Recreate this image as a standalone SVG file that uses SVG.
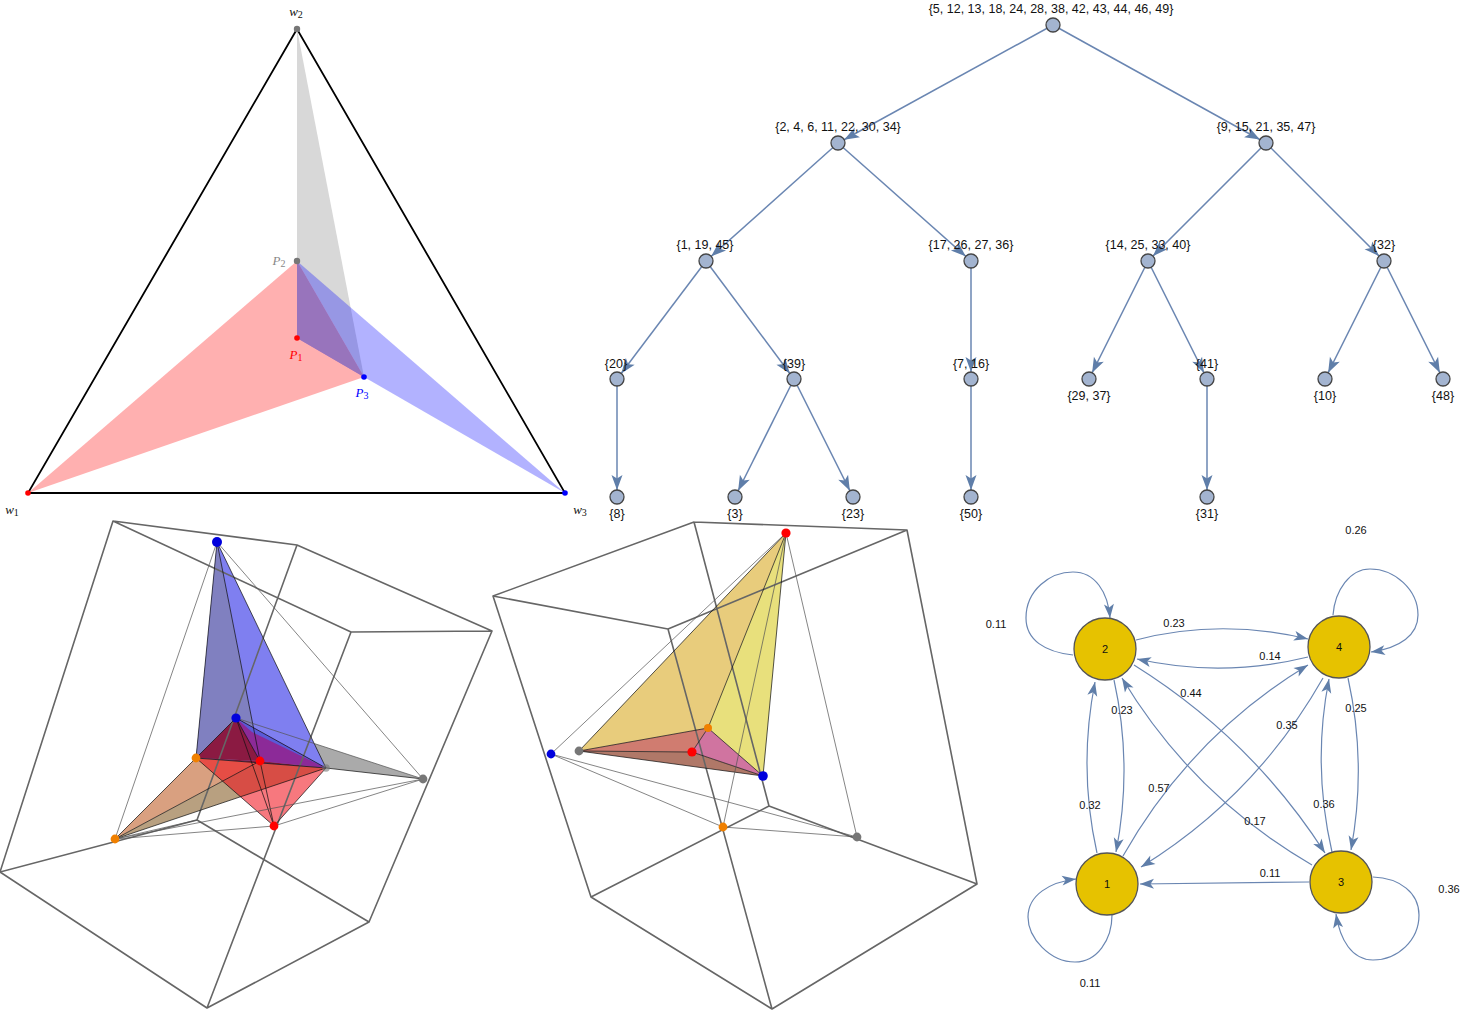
<svg xmlns="http://www.w3.org/2000/svg" width="1467" height="1010" viewBox="0 0 1467 1010">
<style>
text{font-family:"Liberation Sans",Arial,sans-serif;font-size:11px;fill:#111;text-anchor:middle}
.tl text{font-size:12.5px}
.m{font-family:"Liberation Serif","Times New Roman",serif;font-size:13px;font-style:italic}
.m tspan{font-style:normal;font-size:10px}
.cube{fill:none;stroke:#666;stroke-width:1.6;stroke-linejoin:round;stroke-linecap:round}
.e{fill:none;stroke:#111;stroke-width:.9;stroke-opacity:.8}
.t{fill:none;stroke:#555;stroke-width:.9;stroke-opacity:.8}
.te{stroke:#6a86b2;stroke-width:1.5;fill:none;marker-end:url(#ta)}
.ge{stroke:#6a86b2;stroke-width:1.2;fill:none;marker-end:url(#ga)}
.tn{fill:#a3b4d0;stroke:#444;stroke-width:1.3}
.gn{fill:#e6c200;stroke:#555;stroke-width:1.3}
</style>
<defs>
<marker id="ta" markerUnits="userSpaceOnUse" markerWidth="30" markerHeight="12" refX="22" refY="6" orient="auto" overflow="visible"><path d="M15,6 L0,.5 L3.5,6 L0,11.5Z" fill="#5f7ea9"/></marker>
<marker id="ga" markerUnits="userSpaceOnUse" markerWidth="14" markerHeight="12" refX="14" refY="6" orient="auto" overflow="visible"><path d="M14,6 L0,1 L3.5,6 L0,11Z" fill="#5f7ea9"/></marker>
</defs>

<g id="simplex">
<polygon points="297,29 297,261 364,377" fill="#d8d8d8"/>
<polygon points="28,493 297,261 364,377" fill="#ffb0b0"/>
<polygon points="297,261 565,493 364,377 297,338" fill="#0000ff" fill-opacity=".3"/>
<polygon points="297,261 297,338 364,377" fill="#9874bc"/>
<polygon points="297,29 28,493 565,493" fill="none" stroke="#000" stroke-width="1.8"/>
<circle cx="297" cy="29" r="3.2" fill="#777"/><circle cx="297" cy="261" r="3.2" fill="#777"/>
<circle cx="297" cy="338" r="2.8" fill="#f00"/><circle cx="28" cy="493" r="2.8" fill="#f00"/>
<circle cx="364" cy="377" r="2.8" fill="#00f"/><circle cx="565" cy="493" r="2.8" fill="#00f"/>
<text class="m" x="296" y="16">w<tspan dy="2">2</tspan></text>
<text class="m" x="12" y="514">w<tspan dy="2">1</tspan></text>
<text class="m" x="580" y="514">w<tspan dy="2">3</tspan></text>
<text class="m" x="279" y="265" style="fill:#888">P<tspan dy="2">2</tspan></text>
<text class="m" x="296" y="359" style="fill:#f00">P<tspan dy="2">1</tspan></text>
<text class="m" x="362" y="397" style="fill:#00f">P<tspan dy="2">3</tspan></text>
</g>

<g id="tree-connectors">
<path class="te" d="M1053,25L838,143"/><path class="te" d="M1053,25L1266,143"/>
<path class="te" d="M838,143L706,261"/><path class="te" d="M838,143L971,261"/>
<path class="te" d="M1266,143L1148,261"/><path class="te" d="M1266,143L1384,261"/>
<path class="te" d="M706,261L617,379"/><path class="te" d="M706,261L794,379"/>
<path class="te" d="M971,261L971,379"/>
<path class="te" d="M1148,261L1089,379"/><path class="te" d="M1148,261L1207,379"/>
<path class="te" d="M1384,261L1325,379"/><path class="te" d="M1384,261L1443,379"/>
<path class="te" d="M617,379L617,497"/>
<path class="te" d="M794,379L735,497"/><path class="te" d="M794,379L853,497"/>
<path class="te" d="M971,379L971,497"/>
<path class="te" d="M1207,379L1207,497"/>
</g>
<g class="tl">
<g id="tree-root"><circle class="tn" cx="1053" cy="25" r="7"/><text x="1051" y="13">{5, 12, 13, 18, 24, 28, 38, 42, 43, 44, 46, 49}</text></g>
<g id="tree-n1"><circle class="tn" cx="838" cy="143" r="7"/><text x="838" y="131">{2, 4, 6, 11, 22, 30, 34}</text></g>
<g id="tree-n2"><circle class="tn" cx="1266" cy="143" r="7"/><text x="1266" y="131">{9, 15, 21, 35, 47}</text></g>
<g id="tree-n3"><circle class="tn" cx="706" cy="261" r="7"/><text x="705" y="249">{1, 19, 45}</text></g>
<g id="tree-n4"><circle class="tn" cx="971" cy="261" r="7"/><text x="971" y="249">{17, 26, 27, 36}</text></g>
<g id="tree-n5"><circle class="tn" cx="1148" cy="261" r="7"/><text x="1148" y="249">{14, 25, 33, 40}</text></g>
<g id="tree-n6"><circle class="tn" cx="1384" cy="261" r="7"/><text x="1384" y="249">{32}</text></g>
<g id="tree-n7"><circle class="tn" cx="617" cy="379" r="7"/><text x="616" y="368">{20}</text></g>
<g id="tree-n8"><circle class="tn" cx="794" cy="379" r="7"/><text x="794" y="368">{39}</text></g>
<g id="tree-n9"><circle class="tn" cx="971" cy="379" r="7"/><text x="971" y="368">{7, 16}</text></g>
<g id="tree-n10"><circle class="tn" cx="1089" cy="379" r="7"/><text x="1089" y="400">{29, 37}</text></g>
<g id="tree-n11"><circle class="tn" cx="1207" cy="379" r="7"/><text x="1207" y="368">{41}</text></g>
<g id="tree-n12"><circle class="tn" cx="1325" cy="379" r="7"/><text x="1325" y="400">{10}</text></g>
<g id="tree-n13"><circle class="tn" cx="1443" cy="379" r="7"/><text x="1443" y="400">{48}</text></g>
<g id="tree-n14"><circle class="tn" cx="617" cy="497" r="7"/><text x="617" y="518">{8}</text></g>
<g id="tree-n15"><circle class="tn" cx="735" cy="497" r="7"/><text x="735" y="518">{3}</text></g>
<g id="tree-n16"><circle class="tn" cx="853" cy="497" r="7"/><text x="853" y="518">{23}</text></g>
<g id="tree-n17"><circle class="tn" cx="971" cy="497" r="7"/><text x="971" y="518">{50}</text></g>
<g id="tree-n18"><circle class="tn" cx="1207" cy="497" r="7"/><text x="1207" y="518">{31}</text></g>
</g>

<g id="polytope-left">
<polygon points="236,718 423,779 326,768" fill="#aaa"/>
<polygon points="115,839 196,758 260,761" fill="#d9a080"/>
<polygon points="115,839 260,761 326,768" fill="#b8a080"/>
<polygon points="196,758 326,768 274,826" fill="#f00a14" fill-opacity=".55"/>
<polygon points="217,542 196,758 326,768" fill="#7f7ff0"/>
<polygon points="217,542 196,758 260,761" fill="#8080c0"/>
<polygon points="236,718 326,768 260,761" fill="#8c2a98"/>
<polygon points="236,718 326,768 252,732" fill="#5a5ad8"/>
<polygon points="236,718 196,758 260,761" fill="#8b1a42"/>
<polygon points="196,758 260,761 326,768" fill="#8a1a3c"/>
<path class="cube" d="M113,521L297,545L492,631L351,632ZM113,521L0,872L207,1008L369,922L492,631M297,545L197,820M0,872L197,820L369,922M351,632L207,1008"/>
<path class="e" d="M217,542L196,758M217,542L326,768M217,542L260,761M236,718L196,758M236,718L326,768M236,718L274,826M236,718L260,761M196,758L326,768M196,758L274,826M326,768L274,826M260,761L274,826M115,839L196,758M115,839L260,761M115,839L326,768M326,768L423,779"/>
<path class="t" d="M217,542L115,839M217,542L423,779M236,718L423,779M115,839L274,826M115,839L423,779M274,826L423,779M115,839L197,820"/>
<circle cx="217" cy="542" r="5" fill="#00d"/><circle cx="236" cy="718" r="4.6" fill="#00d"/>
<circle cx="196" cy="758" r="4.4" fill="#f08000"/><circle cx="260" cy="761" r="4.4" fill="#f00"/>
<circle cx="326" cy="768" r="3.8" fill="#777" fill-opacity=".6"/><circle cx="423" cy="779" r="4.4" fill="#777"/>
<circle cx="274" cy="826" r="4.4" fill="#f00"/><circle cx="115" cy="839" r="4.4" fill="#f08000"/>
</g>

<g id="polytope-right">
<polygon points="786,533 579,751 708,728" fill="#e8cc7c"/>
<polygon points="786,533 708,728 763,776" fill="#e8e07c"/>
<polygon points="579,751 708,728 692,752" fill="#d07c70"/>
<polygon points="708,728 692,752 763,776" fill="#d074a0"/>
<polygon points="579,751 692,752 763,776" fill="#b07868"/>
<path class="cube" d="M493,596L694,522L907,530L668,629ZM493,596L591,897L772,1009L977,884L907,530M694,522L769,806L977,884M769,806L591,897M668,629L772,1009"/>
<path class="e" d="M786,533L579,751M786,533L708,728M786,533L763,776M579,751L708,728M579,751L692,752M579,751L763,776M708,728L692,752M708,728L763,776M692,752L763,776"/>
<path class="t" d="M786,533L551,754M786,533L723,827M786,533L857,837M551,754L723,827M551,754L857,837M723,827L857,837"/>
<circle cx="786" cy="533" r="4.6" fill="#f00"/><circle cx="708" cy="728" r="4" fill="#f08000"/>
<circle cx="579" cy="751" r="4.4" fill="#777"/><circle cx="692" cy="752" r="4.6" fill="#f00"/>
<circle cx="763" cy="776" r="4.8" fill="#00d"/><circle cx="551" cy="754" r="4.4" fill="#00d"/>
<circle cx="723" cy="827" r="4.4" fill="#f08000"/><circle cx="857" cy="837" r="4.4" fill="#777"/>
</g>

<g id="graph-connectors">
<path class="ge" d="M1136,640Q1220,618 1308,639"/>
<path class="ge" d="M1308,657Q1222,678 1137,659"/>
<path class="ge" d="M1114,680Q1133,766 1116,852"/>
<path class="ge" d="M1097,853Q1078,768 1095,682"/>
<path class="ge" d="M1348,678Q1367,764 1351,850"/>
<path class="ge" d="M1332,852Q1312,765 1329,679"/>
<path class="ge" d="M1309,882L1140,884"/>
<path class="ge" d="M1134,665Q1251,738 1325,853"/>
<path class="ge" d="M1312,865Q1193,796 1122,678"/>
<path class="ge" d="M1323,678Q1256,796 1141,867"/>
<path class="ge" d="M1123,856Q1191,736 1308,665"/>
<path class="ge" d="M1073,655C1045,652 1026,640 1026,618C1026,590 1050,572 1073,572C1095,572 1108,592 1110,618"/>
<path class="ge" d="M1333,615C1335,590 1350,569 1370,569C1395,569 1418,590 1418,615C1418,635 1400,648 1371,652"/>
<path class="ge" d="M1112,915C1112,940 1097,962 1075,962C1050,962 1028,938 1028,917C1028,895 1050,882 1076,879"/>
<path class="ge" d="M1373,877C1400,878 1419,893 1419,915C1419,940 1398,960 1373,960C1352,960 1340,940 1336,914"/>
</g>
<g id="graph-n1"><circle class="gn" cx="1107" cy="884" r="31"/><text x="1107" y="888">1</text></g>
<g id="graph-n2"><circle class="gn" cx="1105" cy="649" r="31"/><text x="1105" y="653">2</text></g>
<g id="graph-n3"><circle class="gn" cx="1341" cy="882" r="31"/><text x="1341" y="886">3</text></g>
<g id="graph-n4"><circle class="gn" cx="1339" cy="647" r="31"/><text x="1339" y="651">4</text></g>
<g id="graph-labels">
<text x="1356" y="534">0.26</text><text x="996" y="628">0.11</text><text x="1174" y="627">0.23</text>
<text x="1270" y="660">0.14</text><text x="1191" y="697">0.44</text><text x="1122" y="714">0.23</text>
<text x="1356" y="712">0.25</text><text x="1287" y="729">0.35</text><text x="1159" y="792">0.57</text>
<text x="1090" y="809">0.32</text><text x="1324" y="808">0.36</text><text x="1255" y="825">0.17</text>
<text x="1270" y="877">0.11</text><text x="1449" y="893">0.36</text><text x="1090" y="987">0.11</text>
</g>
</svg>
